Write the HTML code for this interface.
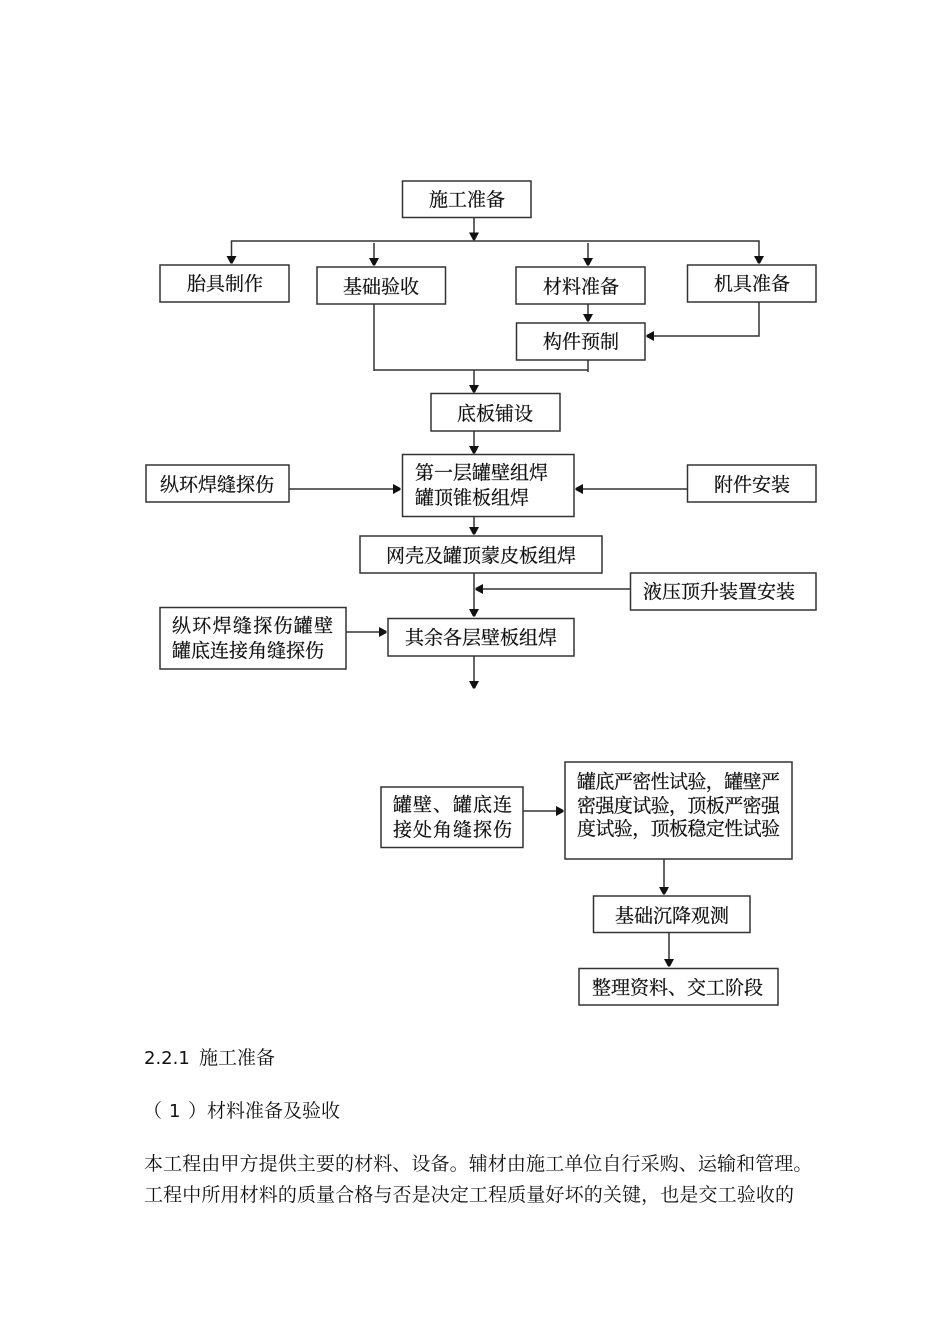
<!DOCTYPE html>
<html lang="zh">
<head>
<meta charset="utf-8">
<style>
html,body{margin:0;padding:0;background:#fff;width:950px;height:1344px;overflow:hidden}
svg{display:block}
text{font-family:"Liberation Sans","Noto Serif CJK SC",serif;font-size:19px;fill:#111}
.d{font-family:"Noto Serif CJK SC",serif;font-size:19px;fill:#111;stroke:#111;stroke-width:.25}
.l{font-family:"DejaVu Sans",sans-serif;font-size:18px;fill:#111}
rect{fill:#fff;stroke:#333;stroke-width:1.5}
path.c{fill:none;stroke:#333;stroke-width:1.5}
polygon{fill:#111}
#diagram{filter:blur(.3px)}
</style>
</head>
<body>
<svg width="950" height="1344" viewBox="0 0 950 1344" xmlns="http://www.w3.org/2000/svg">
<g id="diagram">
<!-- connectors -->
<path class="c" d="M474 217V241M231.500 258V241H759V258M374 243V260M588 243V260M588 304V316M759 302V336H652M374 304V371M374 370H588M588 360V372M474 370V387M474 431V448M289 489H395M687 489H581M474 516V530M474 573V612M630 589H480M346 632H381M474 656V682M523 811H558M664 859V889M669 932V961"/>
<!-- boxes -->
<rect x="402.500" y="181" width="128.500" height="36.500"/>
<rect x="160" y="265" width="129" height="37"/>
<rect x="317" y="267" width="128.500" height="37"/>
<rect x="516" y="267" width="129" height="37"/>
<rect x="687.500" y="265" width="128.500" height="37"/>
<rect x="516.500" y="323" width="128.500" height="37"/>
<rect x="431" y="393.500" width="129" height="37.500"/>
<rect x="402.500" y="454.500" width="171.500" height="62"/>
<rect x="146" y="465" width="143" height="37"/>
<rect x="687.500" y="465" width="128.500" height="37"/>
<rect x="360" y="536" width="242" height="37"/>
<rect x="630.500" y="573" width="185.500" height="37"/>
<rect x="388" y="618.500" width="186" height="37.500"/>
<rect x="160" y="607.500" width="186" height="61.500"/>
<rect x="381" y="787" width="142" height="60.500"/>
<rect x="565" y="762" width="227" height="97"/>
<rect x="593.500" y="896" width="156.500" height="36.500"/>
<rect x="579" y="968.500" width="199" height="36.500"/>
<!-- arrowheads -->
<polygon transform="translate(474,241.500)" points="-1,-1.500 1,-1.500 5,-9 -5,-9"/>
<polygon transform="translate(231.500,265)" points="-1,-1.500 1,-1.500 5,-9 -5,-9"/>
<polygon transform="translate(374,267)" points="-1,-1.500 1,-1.500 5,-9 -5,-9"/>
<polygon transform="translate(588,267)" points="-1,-1.500 1,-1.500 5,-9 -5,-9"/>
<polygon transform="translate(759,265)" points="-1,-1.500 1,-1.500 5,-9 -5,-9"/>
<polygon transform="translate(588,323)" points="-1,-1.500 1,-1.500 5,-9 -5,-9"/>
<polygon transform="translate(645,336) rotate(90)" points="-1,-1.500 1,-1.500 5,-9 -5,-9"/>
<polygon transform="translate(474,394)" points="-1,-1.500 1,-1.500 5,-9 -5,-9"/>
<polygon transform="translate(474,455)" points="-1,-1.500 1,-1.500 5,-9 -5,-9"/>
<polygon transform="translate(402,489) rotate(-90)" points="-1,-1.500 1,-1.500 5,-9 -5,-9"/>
<polygon transform="translate(574,489) rotate(90)" points="-1,-1.500 1,-1.500 5,-9 -5,-9"/>
<polygon transform="translate(474,536)" points="-1,-1.500 1,-1.500 5,-9 -5,-9"/>
<polygon transform="translate(474,589) rotate(90)" points="-1,-1.500 1,-1.500 5,-9 -5,-9"/>
<polygon transform="translate(474,618)" points="-1,-1.500 1,-1.500 5,-9 -5,-9"/>
<polygon transform="translate(388,632) rotate(-90)" points="-1,-1.500 1,-1.500 5,-9 -5,-9"/>
<polygon transform="translate(474,690)" points="-1,-1.500 1,-1.500 5,-9 -5,-9"/>
<polygon transform="translate(565,811) rotate(-90)" points="-1,-1.500 1,-1.500 5,-9 -5,-9"/>
<polygon transform="translate(664,896)" points="-1,-1.500 1,-1.500 5,-9 -5,-9"/>
<polygon transform="translate(669,968)" points="-1,-1.500 1,-1.500 5,-9 -5,-9"/>
<!-- box labels -->
<text class="d" x="429" y="206">施工准备</text>
<text class="d" x="187" y="290">胎具制作</text>
<text class="d" x="343" y="293">基础验收</text>
<text class="d" x="543" y="293">材料准备</text>
<text class="d" x="714" y="290">机具准备</text>
<text class="d" x="543" y="348">构件预制</text>
<text class="d" x="457" y="420">底板铺设</text>
<text class="d" x="415" y="479">第一层罐壁组焊</text>
<text class="d" x="415" y="504">罐顶锥板组焊</text>
<text class="d" x="160" y="491">纵环焊缝探伤</text>
<text class="d" x="714" y="491">附件安装</text>
<text class="d" x="386" y="562">网壳及罐顶蒙皮板组焊</text>
<text class="d" x="643" y="598">液压顶升装置安装</text>
<text class="d" x="405" y="644">其余各层壁板组焊</text>
<text class="d" x="172" y="632" style="letter-spacing:1.300px">纵环焊缝探伤罐壁</text>
<text class="d" x="172" y="657">罐底连接角缝探伤</text>
<text class="d" x="393" y="811" style="letter-spacing:1px">罐壁、罐底连</text>
<text class="d" x="393" y="836" style="letter-spacing:1px">接处角缝探伤</text>
<text class="d" x="577" y="788" textLength="203" lengthAdjust="spacing">罐底严密性试验，罐壁严</text>
<text class="d" x="577" y="812" textLength="203" lengthAdjust="spacing">密强度试验，顶板严密强</text>
<text class="d" x="577" y="835" textLength="203" lengthAdjust="spacing">度试验，顶板稳定性试验</text>
<text class="d" x="615" y="922">基础沉降观测</text>
<text class="d" x="592" y="994">整理资料、交工阶段</text>
</g>
<!-- body text -->
<text class="l" x="144" y="1064">2.2.1</text>
<text x="199" y="1064">施工准备</text>
<text x="143" y="1117">（</text>
<text class="l" x="169" y="1117">1</text>
<text x="188" y="1117">）</text>
<text x="207" y="1117">材料准备及验收</text>
<text x="144" y="1170" style="letter-spacing:.1px">本工程由甲方提供主要的材料、设备。辅材由施工单位自行采购、运输和管理。</text>
<text x="144" y="1201" style="letter-spacing:.12px">工程中所用材料的质量合格与否是决定工程质量好坏的关键，也是交工验收的</text>
</svg>
</body>
</html>
